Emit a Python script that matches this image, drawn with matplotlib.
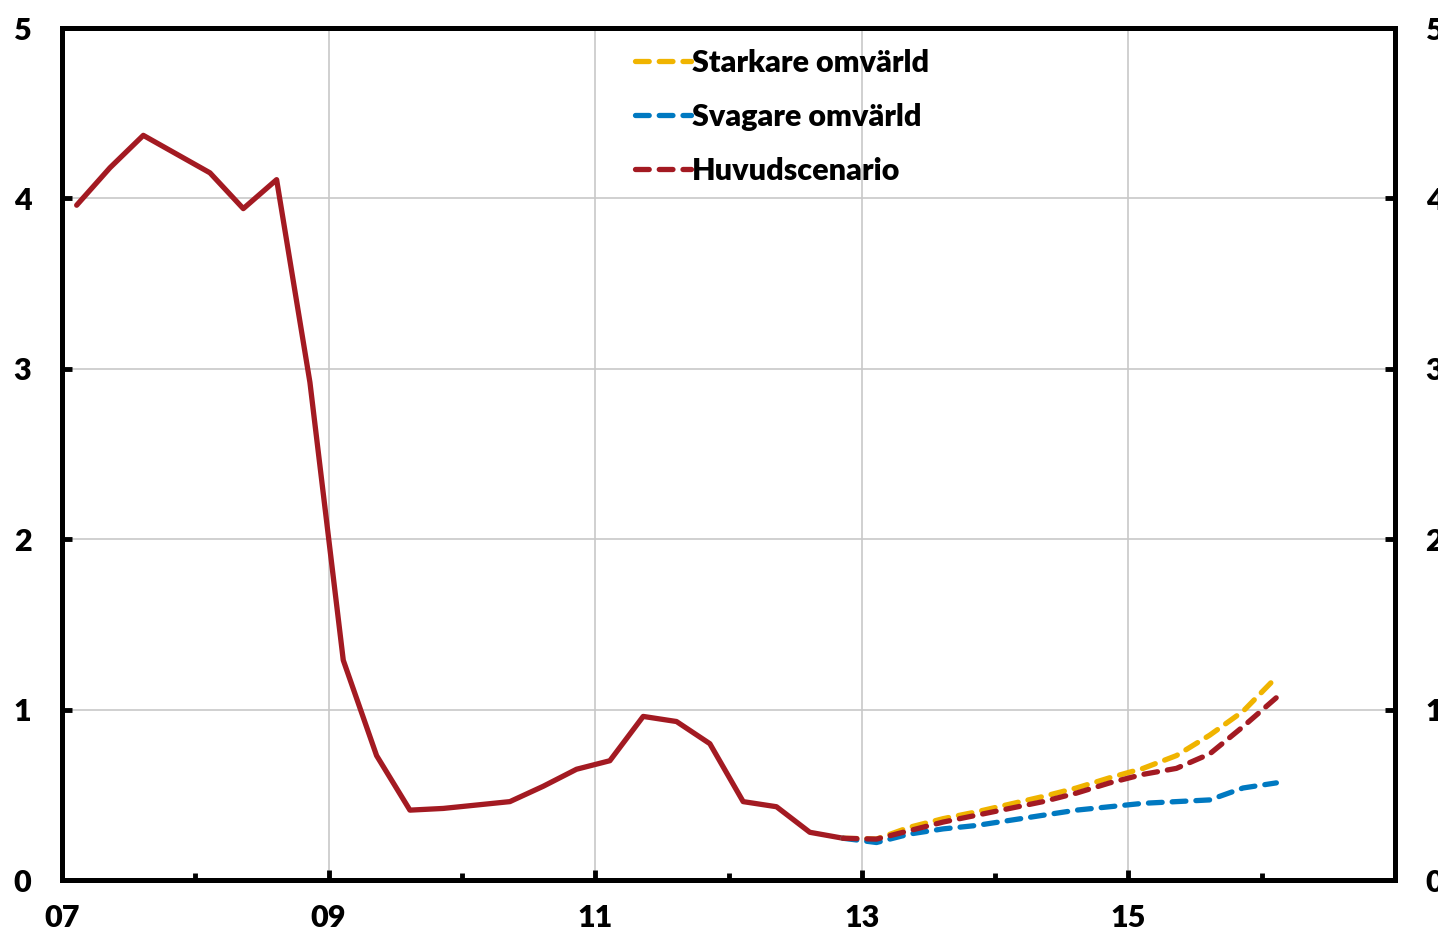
import numpy as np
import matplotlib
matplotlib.use("Agg")
import matplotlib.pyplot as plt
from matplotlib.ticker import FixedLocator, NullFormatter

plt.rcParams['font.family'] = ['Lato', 'DejaVu Sans']
plt.rcParams['font.weight'] = 'bold'

# Quarterly observations, 2007 Q1 - 2012 Q4
history = [3.96, 4.18, 4.37, 4.26, 4.15, 3.94, 4.11, 2.92,
           1.29, 0.73, 0.41, 0.42, 0.44, 0.46, 0.55, 0.65,
           0.70, 0.96, 0.93, 0.80, 0.46, 0.43, 0.28, 0.245]

# Scenarios, 2012 Q4 - 2016 Q1
starkare = [0.245, 0.24, 0.31, 0.36, 0.40, 0.445, 0.49, 0.54,
            0.60, 0.655, 0.73, 0.85, 0.99, 1.19]
svagare = [0.245, 0.22, 0.27, 0.30, 0.32, 0.35, 0.38, 0.41,
           0.43, 0.45, 0.46, 0.47, 0.54, 0.57]
huvud = [0.245, 0.24, 0.29, 0.34, 0.38, 0.42, 0.46, 0.51,
         0.57, 0.62, 0.655, 0.74, 0.90, 1.07]

year_labels = ['07', '09', '11', '13', '15']

first_q = 2007.11
t_hist = first_q + 0.25 * np.arange(len(history))
t_fc = first_q + 0.25 * (len(history) - 1 + np.arange(len(huvud)))

RED = '#A31A22'
YELLOW = '#F0B400'
BLUE = '#0079C1'

fig = plt.figure(figsize=(14.38, 9.33), dpi=100)
ax = fig.add_axes([62 / 1438, 1 - 880 / 933, (1395 - 62) / 1438, (880 - 28) / 933])

ax.set_xlim(2007, 2017)
ax.set_ylim(0, 5)

dash = (0, (2.6, 1.9))
lw = 3.8
ax.plot(t_hist, history, color=RED, lw=lw, solid_capstyle='round', zorder=3)
ax.plot(t_fc, starkare, color=YELLOW, lw=lw, ls=dash, dash_capstyle='round',
        label='Starkare omvärld', zorder=3)
ax.plot(t_fc, svagare, color=BLUE, lw=lw, ls=dash, dash_capstyle='round',
        label='Svagare omvärld', zorder=3)
ax.plot(t_fc, huvud, color=RED, lw=lw, ls=dash, dash_capstyle='round',
        label='Huvudscenario', zorder=4)

# Axes styling
major_years = [2007, 2009, 2011, 2013, 2015]
ax.xaxis.set_major_locator(FixedLocator(major_years))
ax.set_xticklabels(year_labels)
ax.xaxis.set_minor_locator(FixedLocator([2008, 2010, 2012, 2014, 2016]))
ax.xaxis.set_minor_formatter(NullFormatter())
ax.set_yticks([0, 1, 2, 3, 4, 5])

for sp in ax.spines.values():
    sp.set_linewidth(3.6)
    sp.set_color('black')

ax.tick_params(axis='x', which='major', direction='in', length=7, width=3.5,
               labelsize=22, pad=17)
ax.tick_params(axis='x', which='minor', direction='in', length=5, width=3.5)
ax.tick_params(axis='y', which='major', direction='in', length=7, width=3.5,
               labelsize=22, pad=22, right=True, labelright=True)
for lab in ax.get_xticklabels() + ax.get_yticklabels():
    lab.set_fontweight('heavy')

ax.grid(True, axis='y', color='#C8C8C8', lw=1.2, zorder=0)
for yr in major_years[1:]:
    ax.axvline(yr, color='#C8C8C8', lw=1.2, zorder=0)

leg = ax.legend(loc='upper left', bbox_to_anchor=(0.409, 1.008), frameon=False,
                handlelength=1.85, handletextpad=0.03, labelspacing=0.85,
                prop={'weight': 'heavy', 'size': 22})

fig.savefig('out.png', dpi=100)
